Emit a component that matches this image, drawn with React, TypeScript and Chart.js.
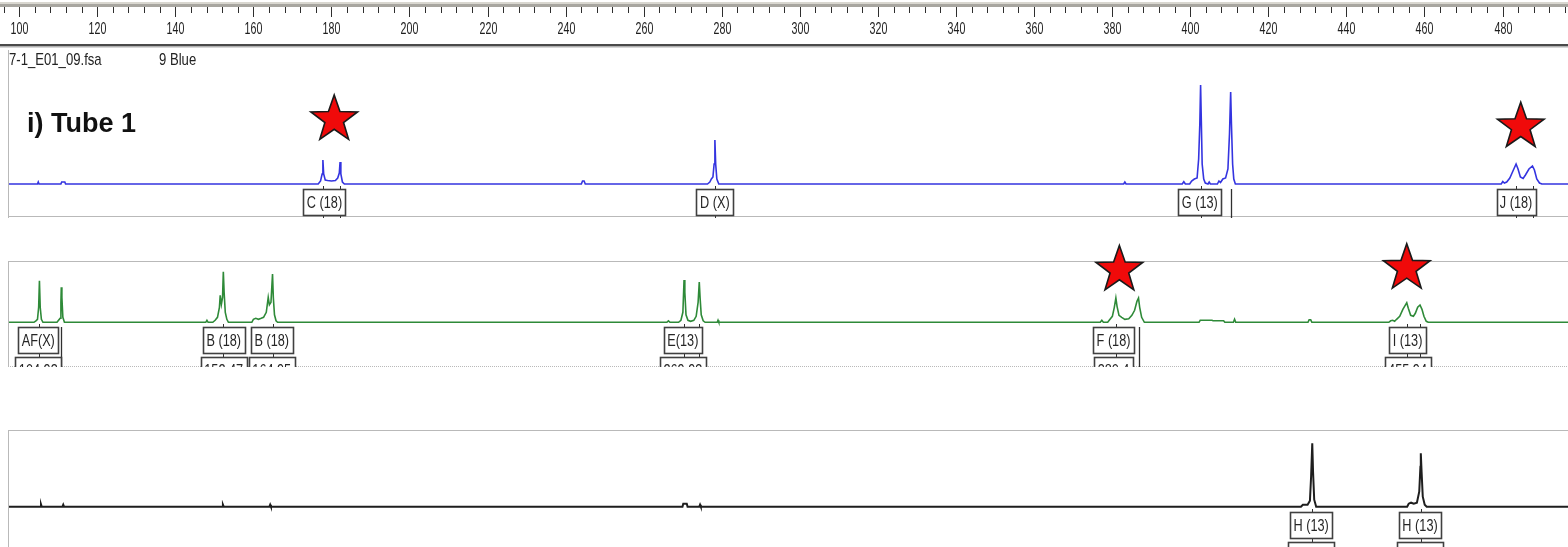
import React, { useEffect, useRef } from 'react';
import { Chart, registerables } from 'chart.js';
Chart.register(...registerables);

// ---------------- data ----------------
const X_MIN = 95.1;
const X_MAX = 496.7;
const RULER_STEP = 4;
const RULER_MAJOR = 20;

const fileName = '7-1_E01_09.fsa';
const dyeName = '9 Blue';
const tubeTitle = 'i) Tube 1';

// size (bp) , signal (RFU)
const blueTrace: [number, number][] = [
  [95.1, 0], [104.7, 0], [104.9, 40], [105.1, 0],
  [110.7, 0], [110.9, 40], [111.7, 40], [111.9, 0],
  [176.6, 0], [177.2, 60], [177.6, 200], [177.8, 480], [178.0, 200], [178.4, 80], [179.0, 70], [180.0, 60],
  [181.0, 70], [181.6, 120], [182.0, 220], [182.2, 440], [182.4, 200], [182.8, 40], [183.3, 0],
  [244.0, 0], [244.3, 60], [244.7, 60], [245.0, 0],
  [276.3, 0], [276.9, 40], [277.3, 100], [277.7, 140], [278.0, 400], [278.2, 880], [278.4, 400], [278.7, 100], [279.2, 0],
  [382.9, 0], [383.2, 40], [383.5, 0],
  [397.9, 0], [398.3, 46], [398.7, 0], [399.8, 0], [400.3, 60], [401.0, 100], [401.7, 120], [402.1, 500], [402.4, 1200],
  [402.6, 1980], [402.8, 1200], [403.0, 400], [403.4, 100], [403.8, 20], [404.5, 0], [404.8, 40], [405.1, 0],
  [406.9, 0], [407.3, 60], [407.7, 30], [408.3, 100], [409.0, 120], [409.6, 300], [410.0, 1000], [410.3, 1840],
  [410.5, 1200], [410.8, 400], [411.1, 100], [411.5, 0],
  [479.6, 0], [480.0, 50], [480.4, 20], [481.0, 40], [481.8, 120], [482.6, 260], [483.4, 400], [483.9, 300],
  [484.5, 140], [485.2, 110], [485.8, 180], [486.7, 300], [487.6, 360], [488.1, 280], [488.7, 100], [489.4, 20], [490.0, 0],
  [496.7, 0],
];

const greenTrace: [number, number][] = [
  [95.1, 0], [103.8, 0], [104.3, 30], [104.7, 60], [105.0, 300], [105.2, 832], [105.4, 300], [105.7, 60], [106.1, 0],
  [109.7, 0], [110.1, 40], [110.5, 80], [110.7, 400], [110.8, 700], [110.95, 500], [111.2, 100], [111.6, 0],
  [147.8, 0], [148.1, 40], [148.4, 0], [149.6, 0], [150.2, 40], [150.8, 100], [151.3, 300], [151.5, 540], [151.8, 360],
  [152.1, 500], [152.3, 1012], [152.5, 600], [152.8, 200], [153.2, 60], [153.6, 0],
  [159.6, 0], [160.0, 60], [160.6, 80], [161.3, 60], [162.0, 80], [162.6, 100], [163.3, 200], [163.8, 500], [164.1, 350],
  [164.5, 400], [164.9, 966], [165.1, 500], [165.4, 150], [165.8, 30], [166.2, 0],
  [265.9, 0], [266.3, 30], [266.7, 0], [268.9, 0], [269.5, 40], [270.0, 200], [270.3, 846], [270.5, 600], [270.8, 150],
  [271.3, 40], [272.0, 20], [272.8, 40], [273.4, 120], [273.9, 400], [274.2, 806], [274.4, 500], [274.7, 150], [275.2, 30], [275.7, 0],
  [278.8, 0], [279.0, 40], [279.2, 0],
  [376.9, 0], [377.3, 40], [377.7, 0], [378.8, 0], [379.4, 60], [380.0, 120], [380.5, 300], [380.9, 486], [381.2, 320],
  [381.7, 140], [382.4, 100], [383.2, 60], [384.2, 70], [385.0, 140], [385.7, 240], [386.3, 420], [386.7, 486], [387.0, 300],
  [387.5, 100], [388.2, 0],
  [402.2, 0], [402.5, 40], [405.5, 40], [405.8, 30], [408.5, 30], [408.8, 0], [411.0, 0], [411.3, 60], [411.6, 0],
  [430.1, 0], [430.4, 50], [430.8, 50], [431.1, 0],
  [450.8, 0], [451.3, 30], [451.8, 40], [452.3, 20], [452.8, 60], [453.6, 120], [454.4, 260], [455.0, 340], [455.4, 392],
  [455.8, 280], [456.4, 140], [457.1, 120], [457.6, 180], [458.2, 300], [458.8, 346], [459.3, 260], [459.8, 120], [460.4, 20], [460.9, 0],
  [496.7, 0],
];

const blackTrace: [number, number][] = [
  [95.1, 0], [105.4, 0], [105.6, 50], [105.8, 0], [111.1, 0], [111.3, 40], [111.5, 0],
  [152.0, 0], [152.2, 40], [152.4, 0], [164.1, 0], [164.3, 40], [164.5, 0],
  [269.9, 0], [270.1, 60], [271.0, 60], [271.2, 0], [274.2, 0], [274.4, 40], [274.6, 0],
  [428.3, 0], [428.8, 40], [430.0, 40], [430.6, 120], [430.9, 600], [431.2, 1268], [431.4, 700], [431.7, 140], [432.2, 0],
  [455.5, 0], [455.9, 60], [456.5, 80], [457.2, 60], [458.0, 80], [458.6, 300], [458.9, 800], [459.0, 1068], [459.2, 700],
  [459.5, 200], [460.0, 40], [460.5, 0],
  [496.7, 0],
];

type Allele = { text: string; x: number; marks: number[]; size?: string };

const blueAlleles: Allele[] = [
  { text: 'C (18)', x: 178.2, marks: [177.8, 182.2] },
  { text: 'D (X)', x: 278.2, marks: [278.2] },
  { text: 'G (13)', x: 402.4, marks: [402.6] },
  { text: 'J (18)', x: 483.4, marks: [483.5, 487.7] },
];
const blueBinLines = [410.3];
const blueStars = [{ x: 180.7, y: 1290 }, { x: 484.6, y: 1146 }];

const greenAlleles: Allele[] = [
  { text: 'AF(X)', x: 104.9, marks: [105.2], size: '104.93' },
  { text: 'B (18)', x: 152.4, marks: [152.3], size: '152.47' },
  { text: 'B (18)', x: 164.7, marks: [164.9], size: '164.95' },
  { text: 'E(13)', x: 270.0, marks: [270.3, 274.2], size: '269.93' },
  { text: 'F (18)', x: 380.3, marks: [380.9], size: '380.4' },
  { text: 'I (13)', x: 455.6, marks: [455.4, 458.8], size: '455.94' },
];
const greenBinLines = [110.8, 386.7];
const greenStars = [{ x: 381.8, y: 1046 }, { x: 455.4, y: 1080 }];

const blackAlleles: Allele[] = [
  { text: 'H (13)', x: 430.9, marks: [431.2], size: '431.21' },
  { text: 'H (13)', x: 458.8, marks: [459.0], size: '459.02' },
];
const blackBinLines: number[] = [];
const blackStars: { x: number; y: number }[] = [];

// ---------------- drawing helpers ----------------
const SANS = '"Liberation Sans", Arial, sans-serif';
const NARROW = 0.82;

function narrowText(ctx: CanvasRenderingContext2D, text: string, x: number, y: number, size: number,
  align: CanvasTextAlign = 'left', sy = 1, color = '#222', weight = 'normal') {
  ctx.save();
  ctx.font = `${weight} ${size}px ${SANS}`;
  ctx.fillStyle = color;
  ctx.textAlign = align;
  ctx.textBaseline = 'alphabetic';
  ctx.translate(x, y);
  ctx.scale(NARROW, sy);
  ctx.fillText(text, 0, 0);
  ctx.restore();
}
function narrowWidth(ctx: CanvasRenderingContext2D, text: string, size: number) {
  ctx.save();
  ctx.font = `normal ${size}px ${SANS}`;
  const w = ctx.measureText(text).width * NARROW;
  ctx.restore();
  return w;
}
function drawStar(ctx: CanvasRenderingContext2D, cx: number, cy: number, R: number) {
  const r = R * 0.4;
  ctx.save();
  ctx.beginPath();
  for (let i = 0; i < 10; i++) {
    const a = -Math.PI / 2 + (i * Math.PI) / 5;
    const rad = i % 2 === 0 ? R : r;
    const px = cx + rad * Math.cos(a);
    const py = cy + rad * Math.sin(a);
    if (i === 0) ctx.moveTo(px, py); else ctx.lineTo(px, py);
  }
  ctx.closePath();
  ctx.fillStyle = '#f00a0a';
  ctx.fill();
  ctx.lineWidth = 1.6;
  ctx.strokeStyle = '#1a1a1a';
  ctx.lineJoin = 'miter';
  ctx.stroke();
  ctx.restore();
}
function drawBox(ctx: CanvasRenderingContext2D, cx: number, top: number, text: string) {
  const size = 15.5;
  const w = Math.round(narrowWidth(ctx, text, size) + 7);
  const h = 26;
  const left = Math.round(cx - w / 2) + 0.5;
  ctx.save();
  ctx.fillStyle = '#ffffff';
  ctx.fillRect(left, top + 0.5, w, h);
  ctx.strokeStyle = '#404040';
  ctx.lineWidth = 1.6;
  ctx.strokeRect(left, top + 0.5, w, h);
  ctx.restore();
  narrowText(ctx, text, cx, top + 19, size, 'center', 1.05, '#262626');
}

type PanelCfg = {
  top: number; height: number; padTop: number; baseline: number; rfuPerPx: number;
  trace: [number, number][]; color: string; width: number;
  alleles: Allele[]; binLines: number[]; stars: { x: number; y: number }[];
  topLine: boolean; bottomDotted: boolean; header: boolean;
};

const PANELS: PanelCfg[] = [
  { top: 48, height: 170, padTop: 0, baseline: 136, rfuPerPx: 20, trace: blueTrace, color: '#3434e0', width: 1.6,
    alleles: blueAlleles, binLines: blueBinLines, stars: blueStars, topLine: false, bottomDotted: false, header: true },
  { top: 261, height: 106, padTop: 40, baseline: 61.3, rfuPerPx: 20, trace: greenTrace, color: '#2e8a38', width: 1.6,
    alleles: greenAlleles, binLines: greenBinLines, stars: greenStars, topLine: true, bottomDotted: true, header: false },
  { top: 430, height: 117, padTop: 0, baseline: 76.7, rfuPerPx: 20, trace: blackTrace, color: '#1e1e1e', width: 2,
    alleles: blackAlleles, binLines: blackBinLines, stars: blackStars, topLine: true, bottomDotted: false, header: false },
];

function makePanel(canvas: HTMLCanvasElement, p: PanelCfg) {
  const yMax = p.baseline * p.rfuPerPx;
  const yMin = -(p.height - p.baseline) * p.rfuPerPx;
  const deco = {
    id: 'deco',
    beforeDatasetsDraw(chart: any) {
      const ctx: CanvasRenderingContext2D = chart.ctx;
      const xs = chart.scales.x;
      const ys = chart.scales.y;
      const W = chart.width;
      const T = chart.chartArea.top;
      const B = chart.chartArea.bottom;
      const base = ys.getPixelForValue(0);
      ctx.save();
      // frame
      ctx.strokeStyle = '#b9b9b9';
      ctx.lineWidth = 1;
      ctx.beginPath();
      ctx.moveTo(8.5, p.header ? T + 2 : T); ctx.lineTo(8.5, B);
      ctx.stroke();
      if (p.topLine) {
        ctx.beginPath(); ctx.moveTo(8, T + 0.5); ctx.lineTo(W, T + 0.5); ctx.stroke();
      }
      if (p.header) {
        ctx.beginPath(); ctx.moveTo(8, B - 1.5); ctx.lineTo(W, B - 1.5); ctx.stroke();
      }
      if (p.bottomDotted) {
        ctx.setLineDash([1, 1]);
        ctx.beginPath(); ctx.moveTo(8, B - 0.5); ctx.lineTo(W, B - 0.5); ctx.stroke();
        ctx.setLineDash([]);
      }
      // clip the label rows to the panel
      ctx.beginPath();
      ctx.rect(0, T, W, B - T);
      ctx.clip();
      // bin lines
      ctx.strokeStyle = '#303030';
      ctx.lineWidth = 1.3;
      const boxTop = Math.round(base + 5);
      p.binLines.forEach((v) => {
        const x = Math.round(xs.getPixelForValue(v)) + 0.5;
        ctx.beginPath(); ctx.moveTo(x, boxTop); ctx.lineTo(x, B); ctx.stroke();
      });
      // allele boxes
      p.alleles.forEach((a) => {
        const cx = xs.getPixelForValue(a.x);
        ctx.strokeStyle = '#303030';
        ctx.lineWidth = 1;
        a.marks.forEach((m) => {
          const mx = Math.round(xs.getPixelForValue(m)) + 0.5;
          ctx.beginPath(); ctx.moveTo(mx, boxTop - 3); ctx.lineTo(mx, boxTop + 30); ctx.stroke();
        });
        drawBox(ctx, cx, boxTop, a.text);
        if (a.size) drawBox(ctx, cx, boxTop + 30, a.size);
      });
      ctx.restore();
    },
    afterDatasetsDraw(chart: any) {
      const ctx: CanvasRenderingContext2D = chart.ctx;
      const xs = chart.scales.x;
      const ys = chart.scales.y;
      const T = chart.chartArea.top;
      p.stars.forEach((s) => drawStar(ctx, xs.getPixelForValue(s.x), ys.getPixelForValue(s.y), 24.5));
      if (p.header) {
        narrowText(ctx, fileName, 9, T + 17, 16, 'left', 1.05, '#222');
        narrowText(ctx, dyeName, 159, T + 17, 16, 'left', 1.05, '#222');
        ctx.save();
        ctx.font = `bold 27px ${SANS}`;
        ctx.fillStyle = '#111';
        ctx.textBaseline = 'alphabetic';
        ctx.fillText(tubeTitle, 27, T + 84);
        ctx.restore();
      }
    },
  };
  return new Chart(canvas, {
    type: 'line',
    data: {
      datasets: [{
        data: p.trace.map(([x, y]) => ({ x, y })),
        borderColor: p.color,
        borderWidth: p.width,
        pointRadius: 0,
        tension: 0,
        fill: false,
        clip: { left: -9, top: 0, right: 0, bottom: 0 },
      }],
    },
    options: {
      animation: false,
      responsive: false,
      events: [],
      layout: { padding: { top: p.padTop, left: 0, right: 0, bottom: 0 } },
      plugins: { legend: { display: false }, tooltip: { enabled: false } },
      scales: {
        x: { type: 'linear', min: X_MIN, max: X_MAX, display: false },
        y: { type: 'linear', min: yMin, max: yMax, display: false },
      },
    },
    plugins: [deco],
  } as any);
}

function makeRuler(canvas: HTMLCanvasElement) {
  const rulerPlugin = {
    id: 'ruler',
    afterDraw(chart: any) {
      const ctx: CanvasRenderingContext2D = chart.ctx;
      const xs = chart.scales.x;
      const W = chart.width;
      ctx.save();
      ctx.fillStyle = '#d9d7d0';
      ctx.fillRect(0, 2, W, 2);
      ctx.fillStyle = '#a8a6a0';
      ctx.fillRect(0, 4, W, 3);
      ctx.strokeStyle = '#2e2e2e';
      ctx.lineWidth = 1;
      xs.ticks.forEach((t: any) => {
        const x = Math.round(xs.getPixelForValue(t.value)) + 0.5;
        const major = t.value % RULER_MAJOR === 0;
        ctx.beginPath(); ctx.moveTo(x, 7); ctx.lineTo(x, major ? 17 : 13); ctx.stroke();
        if (major) narrowText(ctx, String(t.value), x, 33.5, 13, 'center', 1.22, '#1e1e1e');
      });
      ctx.fillStyle = '#4a4a4a';
      ctx.fillRect(0, 44, W, 2);
      ctx.fillStyle = '#b0b0b0';
      ctx.fillRect(0, 46, W, 1.5);
      ctx.restore();
    },
  };
  return new Chart(canvas, {
    type: 'line',
    data: { datasets: [] },
    options: {
      animation: false,
      responsive: false,
      events: [],
      layout: { padding: 0 },
      plugins: { legend: { display: false }, tooltip: { enabled: false } },
      scales: {
        x: {
          type: 'linear', min: X_MIN, max: X_MAX, position: 'bottom',
          grid: { display: false }, border: { display: false },
          ticks: { stepSize: RULER_STEP, autoSkip: false, includeBounds: false, maxRotation: 0, callback: () => '' },
          afterFit: (s: any) => { s.height = 41; },
        },
        y: { display: false },
      },
    },
    plugins: [rulerPlugin],
  } as any);
}

export default function App() {
  const rulerRef = useRef<HTMLCanvasElement>(null);
  const p1 = useRef<HTMLCanvasElement>(null);
  const p2 = useRef<HTMLCanvasElement>(null);
  const p3 = useRef<HTMLCanvasElement>(null);

  useEffect(() => {
    const charts: Chart[] = [];
    if (rulerRef.current) charts.push(makeRuler(rulerRef.current));
    [p1, p2, p3].forEach((r, i) => {
      if (r.current) charts.push(makePanel(r.current, PANELS[i]));
    });
    return () => charts.forEach((c) => c.destroy());
  }, []);

  const W = 1568;
  return (
    <div style={{ position: 'fixed', left: 0, top: 0, width: W, height: 547, background: '#fff', overflow: 'hidden' }}>
      <canvas ref={rulerRef} width={W} height={48} style={{ position: 'absolute', left: 0, top: 0 }} />
      {PANELS.map((p, i) => (
        <canvas key={i} ref={[p1, p2, p3][i]} width={W} height={p.height + p.padTop}
          style={{ position: 'absolute', left: 0, top: p.top - p.padTop }} />
      ))}
    </div>
  );
}
